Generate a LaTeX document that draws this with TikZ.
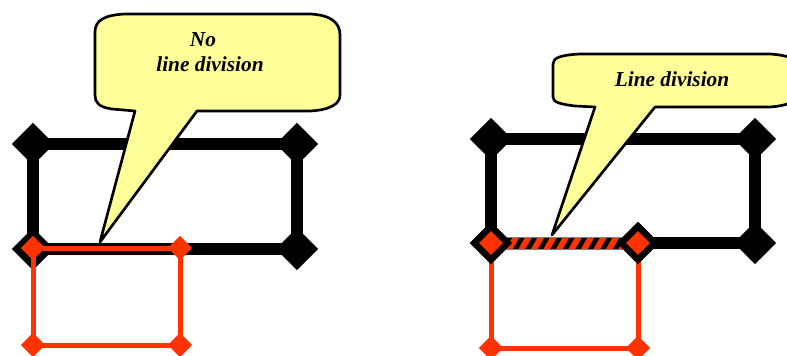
\documentclass[tikz,border=0pt]{standalone}
\usepackage{fontspec}
\setmainfont{Liberation Serif}
\usetikzlibrary{shapes.geometric}
\definecolor{redline}{RGB}{255,51,0}
\definecolor{callyellow}{RGB}{255,255,153}
\tikzset{
  bdia/.style={diamond, fill=black, minimum width=32pt, minimum height=32pt, inner sep=0pt},
  rdia/.style={diamond, fill=redline, minimum width=18pt, minimum height=18pt, inner sep=0pt},
  bline/.style={line width=9.5pt, black},
  rline/.style={line width=3.75pt, redline},
  callout/.style={draw=black, line width=2pt, fill=callyellow, line join=round},
  ctext/.style={font=\fontsize{16}{19}\selectfont\bfseries\itshape, inner sep=0pt, anchor=base}
}
\begin{document}
\begin{tikzpicture}[x=0.75pt,y=-0.75pt]
\useasboundingbox (0,0) rectangle (787,356);
% ---------------- left figure ----------------
\node[bdia] (LA) at (33,144) {};
\node[bdia] (LB) at (297,144) {};
\node[bdia] (LC) at (297,249) {};
\node[bdia] (LD) at (33,249) {};
\draw[bline] (LA.center) -- (LB.center) -- (LC.center) -- (LD.center) -- cycle;
\node[rdia] (LR1) at (33,248) {};
\node[rdia] (LR2) at (180,248) {};
\node[rdia] (LR3) at (180,345) {};
\node[rdia] (LR4) at (33,345) {};
\draw[rline] (LR1.center) -- (LR2.center) -- (LR3.center) -- (LR4.center) -- cycle;
\node[rdia] at (LR1) {};
\node[rdia] at (LR2) {};
\node[rdia] at (LR3) {};
\node[rdia] at (LR4) {};
% left callout
\draw[callout] (100,242) -- (135,111) -- (112,109) .. controls (98,107) and (95,102) .. (95,95)
  -- (95,32) .. controls (95,20) and (105,15) .. (125,14) -- (310,14)
  .. controls (330,15) and (340,22) .. (340,35) -- (340,95)
  .. controls (340,104) and (330,110) .. (310,111) -- (197,111) -- cycle;
\node[ctext] (t1) at (203,47) {No};
\node[ctext] (t2) at (210,72) {line division};
% ---------------- right figure ----------------
\node[bdia] (RA) at (491,139) {};
\node[bdia] (RB) at (755,139) {};
\node[bdia] (RC) at (755,243) {};
\node[bdia] (RD) at (491,243) {};
\node[bdia] (RE) at (638,243) {};
\draw[bline] (RA.center) -- (RB.center) -- (RC.center) -- (RD.center) -- cycle;
\node[rdia] (RR1) at (491,243) {};
\node[rdia] (RR2) at (638,243) {};
\node[rdia] (RR3) at (638,348) {};
\node[rdia] (RR4) at (491,348) {};
\draw[rline] (RR2.center) -- (RR3.center) -- (RR4.center) -- (RR1.center);
% hatched segment
\fill[redline] (503,237) rectangle (626,249);
\begin{scope}
  \clip (503,237) rectangle (626,249);
  \foreach \x in {490,502.5,...,640} {
    \draw[black, line width=3.5pt] (\x,250) -- (\x+8,236);
  }
\end{scope}
\draw[gray, line width=0.5pt] (503,237) -- (626,237) (503,249) -- (626,249);
\node[bdia] at (RD) {};
\node[bdia] at (RE) {};
\node[rdia] at (RR1) {};
\node[rdia] at (RR2) {};
\node[rdia] at (RR3) {};
\node[rdia] at (RR4) {};
% right callout
\draw[callout] (552,235) -- (595,107) -- (575,106) .. controls (559,104) and (553,102) .. (553,97)
  -- (553,64) .. controls (553,58) and (560,55) .. (580,54) -- (770,54)
  .. controls (785,55) and (796,58) .. (796,64) -- (796,97)
  .. controls (796,102) and (785,106) .. (770,107) -- (655,107) -- cycle;
\node[ctext] (t3) at (672,87) {Line division};
\end{tikzpicture}
\end{document}
